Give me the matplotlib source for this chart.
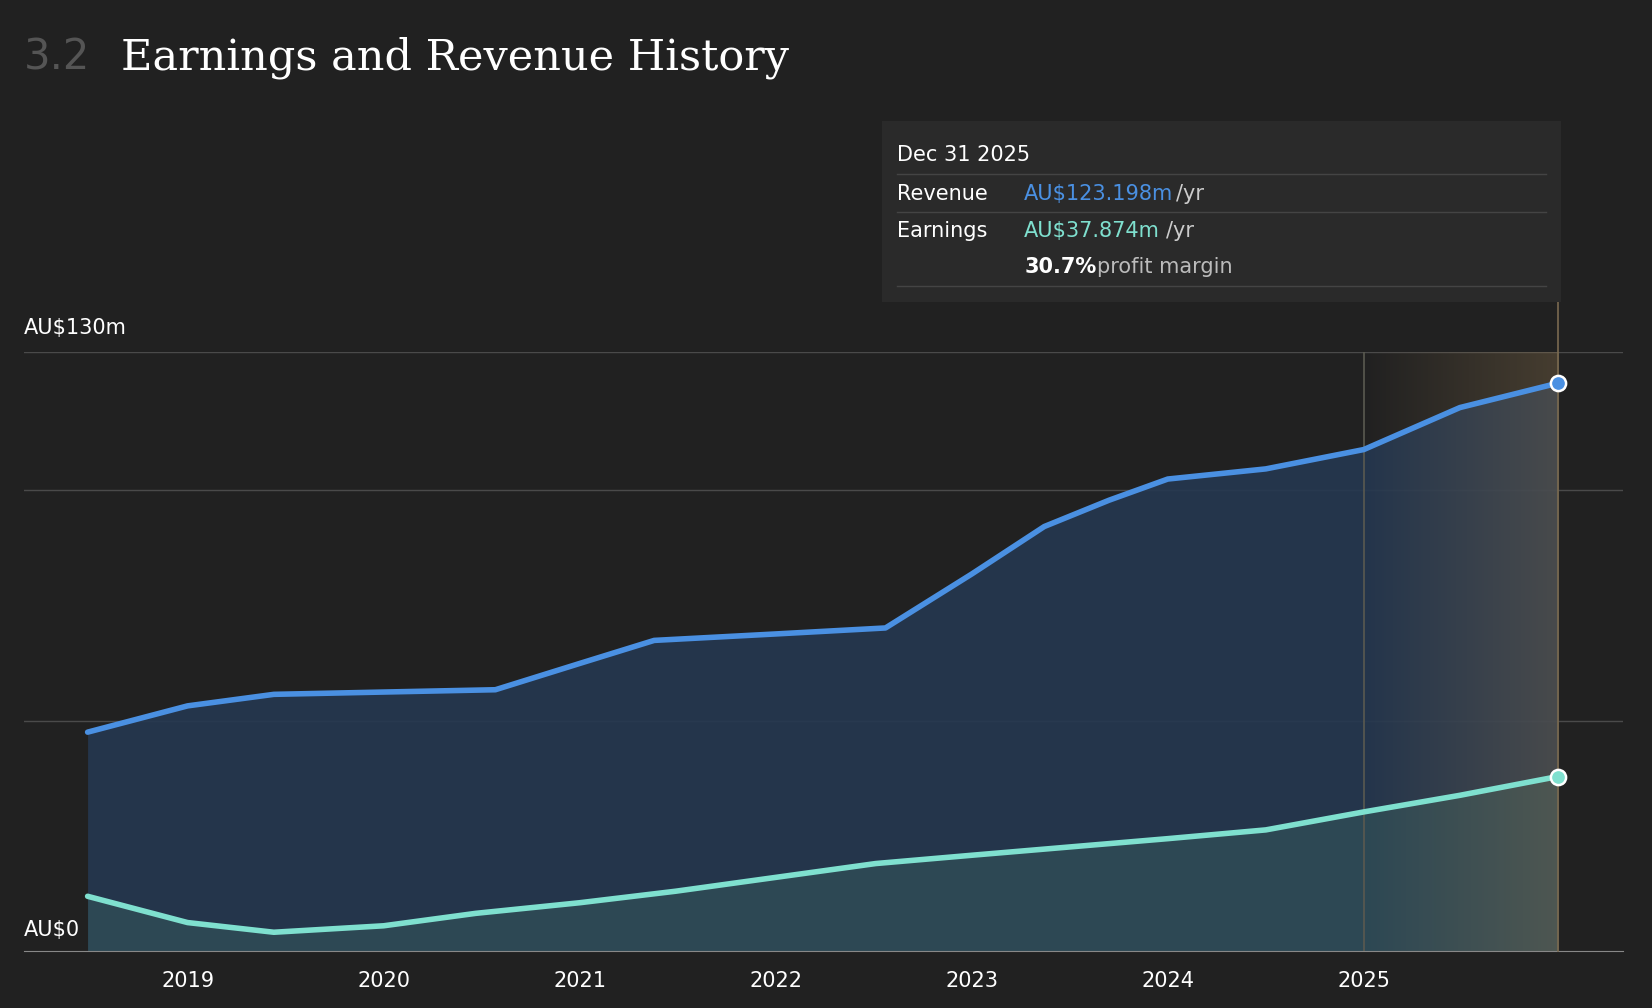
import matplotlib
matplotlib.use("Agg")
import matplotlib.pyplot as plt
import numpy as np
from matplotlib.patches import Rectangle

years_rev = [2018.49, 2019.0, 2019.44, 2020.0, 2020.57, 2021.0, 2021.38, 2022.0, 2022.56, 2023.0, 2023.37, 2023.70, 2024.0, 2024.5, 2025.0, 2025.49, 2025.99]
revenue = [47.5, 53.2, 55.7, 56.2, 56.7, 62.4, 67.4, 68.8, 70.1, 81.8, 92.1, 97.8, 102.4, 104.6, 108.8, 117.9, 123.2]
years_earn = [2018.49, 2019.0, 2019.44, 2020.0, 2020.47, 2021.0, 2021.49, 2022.0, 2022.51, 2023.0, 2024.0, 2024.5, 2025.0, 2025.49, 2025.99]
earnings = [11.9, 6.2, 4.1, 5.5, 8.2, 10.5, 13.0, 16.0, 19.0, 20.8, 24.4, 26.3, 30.2, 33.8, 37.874]
xticks = [2019, 2020, 2021, 2022, 2023, 2024, 2025]
grid_vals = [50, 100, 130]

BG = "#212121"
BLUE = "#4a90e2"
TEAL = "#7fe0cf"

fig = plt.figure(figsize=(16.52, 10.08), dpi=100, facecolor=BG)
ax = fig.add_axes([0.0147, 0.0564, 0.9675, 0.5946], facecolor=BG)
ax.set_xlim(2018.167, 2026.32)
ax.set_ylim(0, 130)

for g in grid_vals:
    ax.axhline(g, color="#4a4a4a", lw=1, zorder=0)

ax.fill_between(years_rev, revenue, 0, color="#253850", alpha=0.9, lw=0, zorder=1)
ax.fill_between(years_earn, earnings, 0, color="#35585c", alpha=0.55, lw=0, zorder=2)

grad = np.linspace(0, 1, 256).reshape(1, -1)
cmap = matplotlib.colors.LinearSegmentedColormap.from_list(
    "h", [(0.55, 0.45, 0.3, 0.0), (0.55, 0.45, 0.3, 0.35)])
ax.imshow(grad, extent=[2025.0, 2025.99, 0, 130], aspect="auto", cmap=cmap, zorder=3)
ax.axvline(2025.0, color="#5a5a50", lw=1.2, zorder=3)
ax.plot([2025.99, 2025.99], [0, 145], color="#7a6a50", lw=1.2, zorder=3, clip_on=False)

ax.plot(years_rev, revenue, color=BLUE, lw=4, zorder=4, solid_capstyle="round")
ax.plot(years_earn, earnings, color=TEAL, lw=4, zorder=4, solid_capstyle="round")
ax.scatter([years_rev[-1]], [revenue[-1]], s=120, color=BLUE, edgecolor="white", lw=1.8, zorder=5)
ax.scatter([years_earn[-1]], [earnings[-1]], s=120, color=TEAL, edgecolor="white", lw=1.8, zorder=5)

for s in ["top", "right", "left"]:
    ax.spines[s].set_visible(False)
ax.spines["bottom"].set_color("#888888")
ax.set_yticks([])
ax.set_xticks(xticks)
ax.set_xticklabels([str(x) for x in xticks], color="white", fontsize=15)
ax.tick_params(axis="x", length=0, pad=14)

ax.text(0.0, 130 + 3, "AU$130m", color="white", fontsize=15, transform=ax.get_yaxis_transform(), va="bottom")
ax.text(0.0, 2.5, "AU$0", color="white", fontsize=15, transform=ax.get_yaxis_transform(), va="bottom")

fig.text(0.0147, 0.943, "3.2", color="#555555", fontsize=30, va="center")
fig.text(0.073, 0.943, "Earnings and Revenue History", color="white", fontsize=31,
         family="DejaVu Serif", va="center")

fig.patches.append(Rectangle((0.534, 0.700), 0.411, 0.180, transform=fig.transFigure,
                             facecolor="#2a2a2a", edgecolor="none", zorder=1))
tx = 0.543
vx = 0.620
fig.text(tx, 0.846, "Dec 31 2025", color="white", fontsize=15, va="center")
fig.text(tx, 0.808, "Revenue", color="white", fontsize=15, va="center")
fig.text(vx, 0.808, "AU$123.198m", color=BLUE, fontsize=15, va="center")
fig.text(vx + 0.092, 0.808, "/yr", color="#cccccc", fontsize=15, va="center")
fig.text(tx, 0.771, "Earnings", color="white", fontsize=15, va="center")
fig.text(vx, 0.771, "AU$37.874m", color=TEAL, fontsize=15, va="center")
fig.text(vx + 0.086, 0.771, "/yr", color="#cccccc", fontsize=15, va="center")
fig.text(vx, 0.735, "30.7%", color="white", fontsize=15, va="center", weight="bold")
fig.text(vx + 0.044, 0.735, "profit margin", color="#bbbbbb", fontsize=15, va="center")
for yy in [0.827, 0.790, 0.716]:
    fig.lines.append(plt.Line2D([tx, 0.936], [yy, yy], transform=fig.transFigure, color="#444444", lw=1))

fig.savefig("out.png", dpi=100, facecolor=BG)
